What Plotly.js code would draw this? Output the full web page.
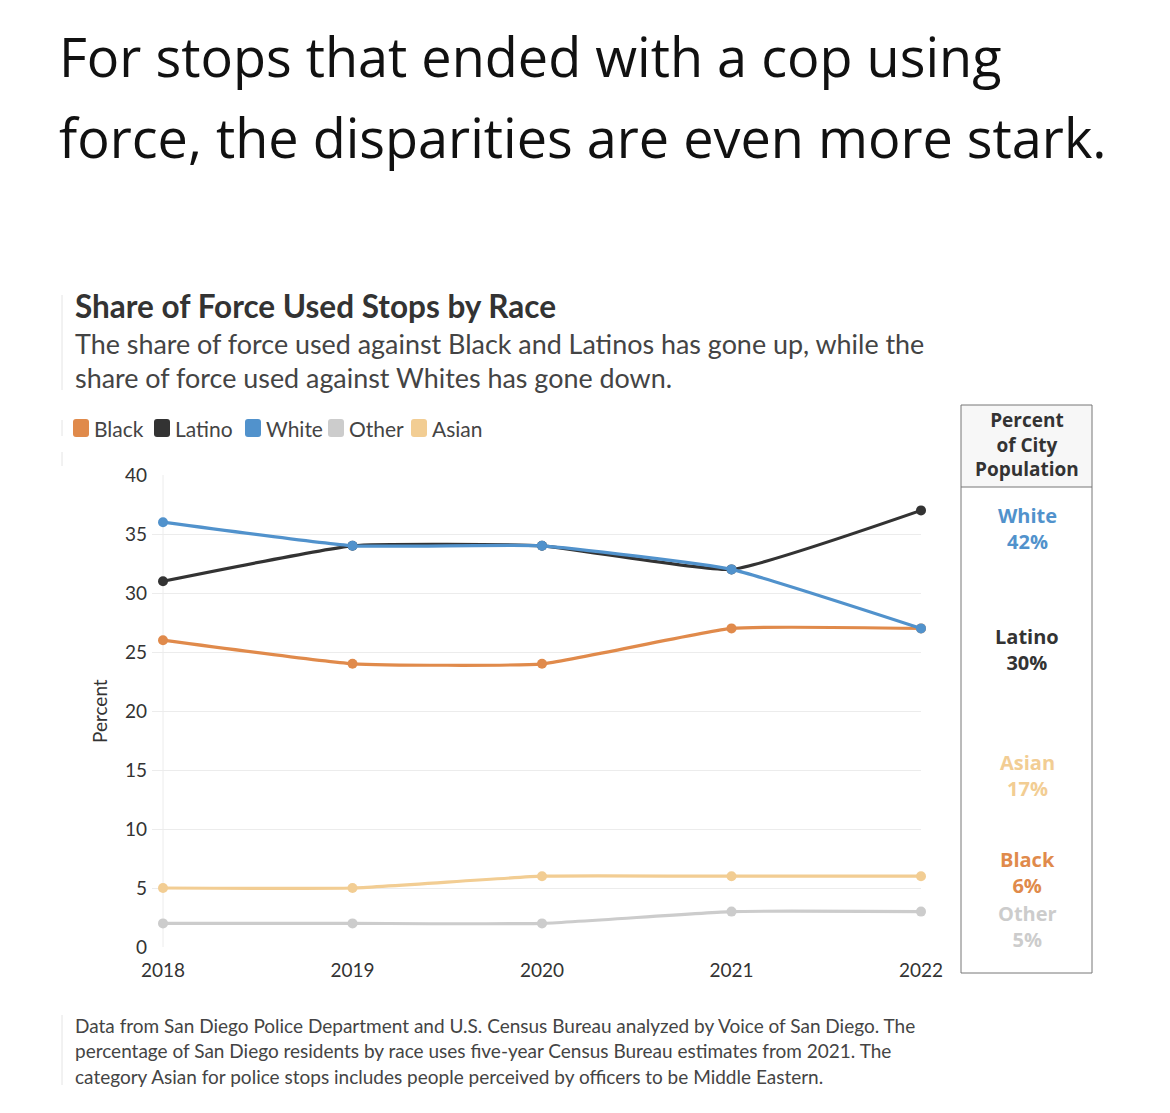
<!DOCTYPE html>
<html><head><meta charset="utf-8">
<script src="https://cdn.plot.ly/plotly-3.0.1.min.js"></script>
<style>html,body{margin:0;padding:0;background:#fff}#chart{width:1170px;height:1113px}</style>
</head><body><div id="chart"></div>
<script>
// ---- data ----
const years = [2018, 2019, 2020, 2021, 2022];
const seriesNames = ["Black", "Latino", "White", "Other", "Asian"];
const blackVals  = [26, 24, 24, 27, 27];
const latinoVals = [31, 34, 34, 32, 37];
const whiteVals  = [36, 34, 34, 32, 27];
const otherVals  = [2, 2, 2, 3, 3];
const asianVals  = [5, 5, 6, 6, 6];
const yTicks = [0, 5, 10, 15, 20, 25, 30, 35, 40];
const popLabels = ["White", "Latino", "Asian", "Black", "Other"];
const popValues = ["42%", "30%", "17%", "6%", "5%"];

const colors = {Black:"#e08a4b", Latino:"#333333", White:"#5192cc", Other:"#cccccc", Asian:"#f2cd93"};
const values = {Black:blackVals, Latino:latinoVals, White:whiteVals, Other:otherVals, Asian:asianVals};

// ---- geometry helpers (pixel -> paper) ----
const W = 1170, H = 1113;
const L = 152, R = 921, T = 475, B = 947;
const px = x => (x - L) / (R - L);
const py = y => (B - y) / (B - T);

const drawOrder = ["Other", "Asian", "Black", "Latino", "White"];
const traces = drawOrder.map(n => ({
  x: years, y: values[n], type: "scatter", mode: "lines+markers", name: n,
  line: {color: colors[n], width: 3.2, shape: "spline", smoothing: 0.4},
  marker: {color: colors[n], size: 10},
  cliponaxis: false, showlegend: false, hoverinfo: "x+y+name"
}));

const ann = [];
const shapes = [];
const F = "Lato, 'Open Sans', sans-serif";
const OS = "'Open Sans', 'Noto Sans', sans-serif";

// big header
ann.push({xref:"paper", yref:"paper", x:px(57), y:py(56), xanchor:"left", yanchor:"middle", showarrow:false,
  text:"For stops that ended with a cop using", font:{family:OS, size:54, color:"#111"}});
ann.push({xref:"paper", yref:"paper", x:px(57), y:py(137), xanchor:"left", yanchor:"middle", showarrow:false,
  text:"force, the disparities are even more stark.", font:{family:OS, size:54, color:"#111"}});

// chart title + subtitle
ann.push({xref:"paper", yref:"paper", x:px(73), y:py(306), xanchor:"left", yanchor:"middle", showarrow:false,
  text:"<b>Share of Force Used Stops by Race</b>", font:{family:F, size:31.5, color:"#333"}});
ann.push({xref:"paper", yref:"paper", x:px(73), y:py(343), xanchor:"left", yanchor:"middle", showarrow:false,
  text:"The share of force used against Black and Latinos has gone up, while the", font:{family:F, size:26.9, color:"#444"}});
ann.push({xref:"paper", yref:"paper", x:px(73), y:py(377), xanchor:"left", yanchor:"middle", showarrow:false,
  text:"share of force used against Whites has gone down.", font:{family:F, size:26.9, color:"#444"}});

// legend
const legX = [73, 154, 245, 328, 411];
seriesNames.forEach((n, i) => {
  const x0 = legX[i], x1 = x0 + 16, y0 = 419, y1 = 437, r = 3;
  const path = `M ${px(x0+r)} ${py(y0)} L ${px(x1-r)} ${py(y0)} Q ${px(x1)} ${py(y0)} ${px(x1)} ${py(y0+r)} ` +
    `L ${px(x1)} ${py(y1-r)} Q ${px(x1)} ${py(y1)} ${px(x1-r)} ${py(y1)} L ${px(x0+r)} ${py(y1)} ` +
    `Q ${px(x0)} ${py(y1)} ${px(x0)} ${py(y1-r)} L ${px(x0)} ${py(y0+r)} Q ${px(x0)} ${py(y0)} ${px(x0+r)} ${py(y0)} Z`;
  shapes.push({type:"path", xref:"paper", yref:"paper", path, fillcolor:colors[n], line:{width:0}});
  ann.push({xref:"paper", yref:"paper", x:px(x1+3), y:py(428), xanchor:"left", yanchor:"middle", showarrow:false,
    text:n, font:{family:F, size:21, color:"#444"}});
});

// axis title
ann.push({xref:"paper", yref:"paper", x:px(99), y:py(711), xanchor:"center", yanchor:"middle", showarrow:false,
  textangle:-90, text:"Percent", font:{family:F, size:19, color:"#333"}});

// vertical line at first year
shapes.push({type:"line", xref:"x", yref:"paper", x0:years[0], x1:years[0], y0:0, y1:1, line:{color:"#ececec", width:1}, layer:"below"});

// right box
shapes.push({type:"rect", xref:"paper", yref:"paper", x0:px(961), x1:px(1092), y0:py(405), y1:py(487), fillcolor:"#f7f7f7", line:{width:0}, layer:"below"});
shapes.push({type:"rect", xref:"paper", yref:"paper", x0:px(961), x1:px(1092), y0:py(405), y1:py(973), line:{color:"#777", width:1}});
shapes.push({type:"line", xref:"paper", yref:"paper", x0:px(961), x1:px(1092), y0:py(487), y1:py(487), line:{color:"#777", width:1}});
ann.push({xref:"paper", yref:"paper", x:px(1027), y:py(444), xanchor:"center", yanchor:"middle", showarrow:false,
  text:"<b>Percent<br>of City<br>Population</b>", font:{family:OS, size:19, color:"#333"}});
const popY = [528, 649, 775, 872, 926];
popLabels.forEach((n, i) => {
  ann.push({xref:"paper", yref:"paper", x:px(1027), y:py(popY[i]), xanchor:"center", yanchor:"middle", showarrow:false,
    text:`<b>${n}<br>${popValues[i]}</b>`, font:{family:OS, size:20, color: n==="Latino" ? "#333" : colors[n]}});
});

// footnote
const foot = ["Data from San Diego Police Department and U.S. Census Bureau analyzed by Voice of San Diego. The",
  "percentage of San Diego residents by race uses five-year Census Bureau estimates from 2021. The",
  "category Asian for police stops includes people perceived by officers to be Middle Eastern."];
[1025, 1050, 1076].forEach((yy, i) => {
  ann.push({xref:"paper", yref:"paper", x:px(73), y:py(yy), xanchor:"left", yanchor:"middle", showarrow:false,
    text:foot[i], font:{family:F, size:19, color:"#444"}});
});

// faint left markers
[[295,390],[420,436],[452,466],[1015,1085]].forEach(s => {
  shapes.push({type:"line", xref:"paper", yref:"paper", x0:px(62), x1:px(62), y0:py(s[0]), y1:py(s[1]), line:{color:"#e4e4e4", width:1}});
});

const layout = {
  width: W, height: H,
  margin: {l: L, r: W - R, t: T, b: H - B, pad: 0},
  paper_bgcolor: "#fff", plot_bgcolor: "#fff",
  showlegend: false,
  xaxis: {range: [years[0] - 11/189.5, years[years.length-1]], tickvals: years, ticktext: years.map(String),
    showgrid: false, zeroline: false, showline: false, ticks: "", ticklabelstandoff: 10,
    tickfont: {family: F, size: 19, color: "#333"}, fixedrange: true},
  yaxis: {range: [0, 40], tickvals: yTicks, showgrid: true, gridcolor: "#ececec", gridwidth: 1,
    zeroline: false, showline: false, ticks: "", ticklabelstandoff: 4,
    tickfont: {family: F, size: 19, color: "#333"}, fixedrange: true},
  annotations: ann, shapes: shapes
};
Plotly.newPlot("chart", traces, layout, {displayModeBar: false, staticPlot: true});
</script></body></html>
